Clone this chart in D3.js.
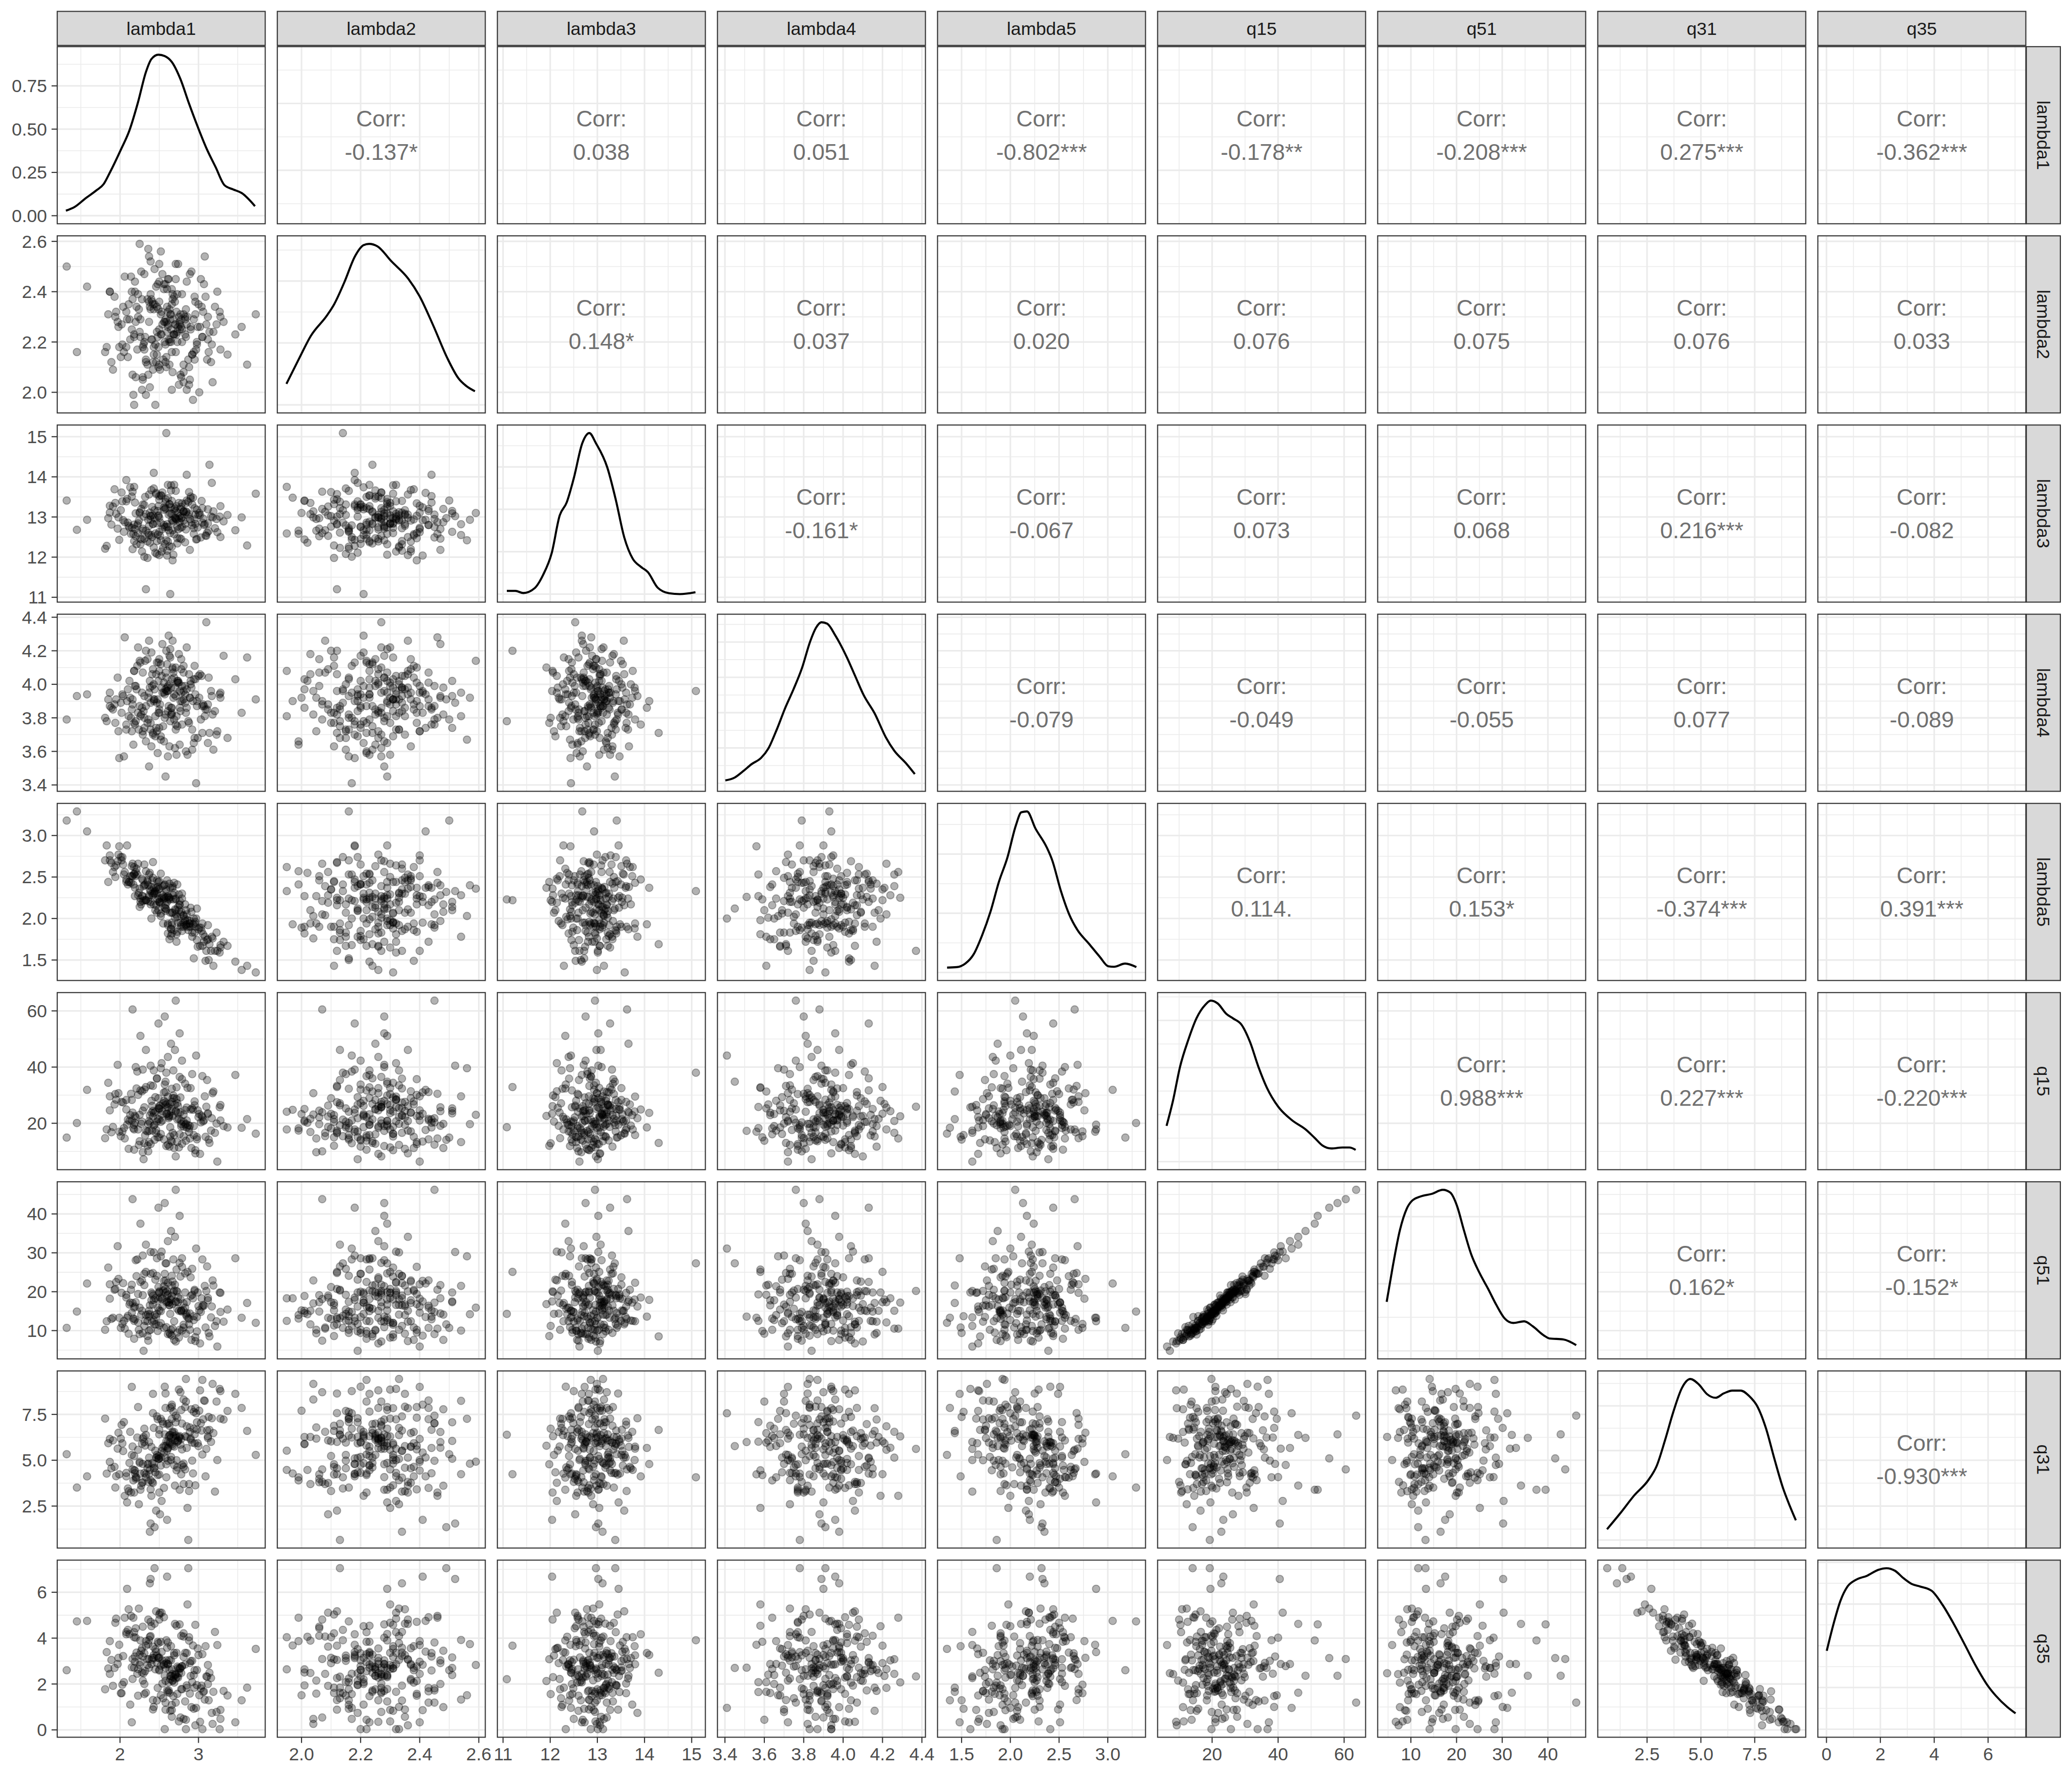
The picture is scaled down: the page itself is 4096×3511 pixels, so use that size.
<!DOCTYPE html>
<html><head><meta charset="utf-8">
<script src="https://cdn.jsdelivr.net/npm/d3@7"></script>
<style>html,body{margin:0;padding:0;background:#fff;}svg{display:block;}</style>
</head><body>
<svg id="chart"></svg>
<script>
// ---------------- DATA ----------------
const varNames = ["lambda1","lambda2","lambda3","lambda4","lambda5","q15","q51","q31","q35"];

const lambda1 = [
2.60,2.19,3.11,2.75,2.45,1.87,2.88,2.57,2.37,2.98,
2.27,2.68,3.62,2.08,2.79,2.51,2.40,2.94,1.58,2.64,
2.83,2.33,2.49,3.17,2.14,2.71,2.55,2.44,3.05,2.25,
1.99,2.90,2.66,2.29,3.28,2.47,2.76,1.32,2.59,2.81,
2.53,3.09,2.22,2.70,2.38,2.96,1.94,2.62,2.85,2.42,
3.21,2.50,2.16,2.73,2.56,2.10,2.89,2.31,3.02,2.45,
2.67,1.83,2.78,2.39,3.13,2.61,2.20,2.84,2.47,3.73,
2.35,2.58,2.99,2.03,2.70,2.28,2.64,3.24,2.13,2.72,
2.48,2.92,2.32,2.60,1.91,2.86,2.69,2.43,3.08,2.18,
2.79,2.54,2.06,2.95,2.63,2.25,3.18,2.41,2.58,1.45,
2.90,2.36,2.66,3.32,2.29,2.60,2.01,2.77,2.52,2.71,
2.17,3.04,2.57,2.39,2.85,1.89,2.65,2.97,2.44,2.74,
3.06,2.26,2.46,2.81,2.11,2.68,2.92,2.36,3.47,2.50,
2.40,2.62,3.14,2.21,2.77,2.52,1.97,2.87,2.67,2.30,
2.56,2.05,2.83,2.65,2.35,3.01,2.24,2.73,2.50,3.10,
1.81,2.79,2.42,2.94,2.61,2.18,2.71,2.33,3.23,2.58,
2.76,2.46,3.03,1.95,2.84,2.66,2.28,3.55,2.49,2.15,
2.43,3.12,2.52,2.81,2.04,2.73,2.63,2.23,2.93,2.37,
3.00,2.31,2.69,2.54,2.88,1.85,2.76,2.41,3.07,2.59,
2.29,2.95,2.09,2.66,2.74,2.48,3.27,2.18,2.61,2.38,
2.71,2.12,2.89,2.50,3.19,2.37,2.58,2.23,3.05,2.43,
2.31,2.65,1.98,2.85,2.53,3.37,2.19,2.69,2.47,2.78,
3.16,2.42,2.59,1.87,2.75,2.26,2.98,2.50,2.81,2.02,
2.20,2.83,2.63,2.96,1.93,2.67,2.39,3.28,2.15,2.61,
2.64,2.49,2.16,2.72,2.91,2.08,2.78,2.33,2.56,3.12];

const lambda2 = [
2.24,2.44,2.13,2.30,2.19,2.40,2.03,2.28,2.36,2.20,
2.48,2.23,2.11,2.32,2.25,2.09,2.37,2.16,2.42,2.21,
2.29,1.99,2.33,2.19,2.46,2.27,2.13,2.35,2.22,2.59,
2.18,2.26,2.41,2.06,2.30,2.15,2.28,2.50,2.10,2.31,
2.23,2.38,2.17,2.27,2.02,2.36,2.30,2.21,2.44,2.12,
2.34,2.25,2.07,2.39,2.28,2.14,2.47,2.20,2.26,1.95,
2.37,2.18,2.29,2.52,2.16,2.27,2.06,2.33,2.24,2.31,
2.11,2.43,2.26,2.19,2.36,2.01,2.29,2.40,2.21,2.32,
2.43,2.15,2.22,2.34,2.09,2.30,2.38,2.18,2.54,2.23,
2.20,2.27,2.46,2.13,2.33,2.24,2.04,2.36,2.29,2.16,
2.25,2.07,2.35,2.28,2.18,2.41,2.14,2.31,2.23,2.45,
1.99,2.34,2.20,2.39,2.27,2.12,2.31,2.17,2.49,2.26,
2.32,2.22,2.42,2.04,2.35,2.29,2.15,2.57,2.23,2.11,
2.21,2.45,2.24,2.34,2.07,2.31,2.28,2.13,2.39,2.19,
2.41,2.16,2.30,2.25,2.37,2.00,2.33,2.20,2.44,2.27,
2.16,2.39,2.09,2.29,2.32,2.22,2.51,2.12,2.27,2.19,
2.27,2.12,2.45,2.32,2.22,2.01,2.37,2.26,2.18,2.40,
2.15,2.30,2.56,2.08,2.34,2.24,2.20,2.39,1.97,2.28,
2.35,2.17,2.23,2.47,2.10,2.31,2.25,2.21,2.43,2.14,
2.05,2.38,2.29,2.16,2.51,2.22,2.32,1.95,2.26,2.34,
2.16,2.29,2.05,2.36,2.24,2.54,2.12,2.30,2.22,2.33,
2.47,2.20,2.26,2.01,2.32,2.15,2.40,2.23,2.34,2.06,
2.12,2.35,2.28,2.40,2.03,2.29,2.19,2.51,2.11,2.27,
2.28,2.23,2.11,2.31,2.38,2.08,2.33,2.17,2.25,2.45,
2.31,2.10,2.37,2.23,2.48,2.18,2.26,2.13,2.43,2.21];

const lambda3 = [
12.82,13.36,12.61,12.96,12.11,13.28,13.07,12.75,13.56,12.45,
13.20,12.88,12.29,13.39,13.00,12.53,13.67,12.72,12.93,11.08,
13.33,12.66,13.04,13.85,12.58,12.97,12.23,13.17,12.86,13.10,
12.43,13.51,12.92,12.71,13.27,12.08,13.02,13.41,12.76,13.14,
13.53,12.54,12.79,13.22,12.36,13.06,13.35,12.67,14.05,12.83,
12.72,12.98,13.63,12.47,13.18,12.86,12.18,13.30,13.05,12.59,
12.91,12.28,13.25,13.02,12.65,13.47,12.52,13.12,12.84,13.58,
11.98,13.20,12.74,13.39,12.98,12.44,13.09,12.62,13.74,12.94,
13.15,12.79,13.50,12.16,13.26,13.04,12.57,14.10,12.82,12.40,
12.75,13.61,12.87,13.22,12.27,13.12,12.99,12.50,13.37,12.68,
13.46,12.60,13.08,12.89,13.31,12.04,13.17,12.73,13.54,12.95,
12.58,13.40,12.33,13.03,13.13,12.81,13.79,12.44,12.97,12.69,
12.96,12.46,13.60,13.14,12.78,12.06,13.31,12.93,12.67,13.43,
12.55,13.06,14.30,12.32,13.20,12.85,12.71,13.38,11.92,13.01,
13.24,12.63,12.83,13.66,12.39,13.10,12.91,12.76,13.52,12.53,
12.21,13.34,13.04,12.58,13.80,12.81,13.15,11.20,12.95,13.23,
12.87,13.57,12.49,13.08,12.69,13.40,12.14,12.99,13.27,12.73,
13.71,12.84,12.42,13.13,12.92,12.34,13.32,12.60,13.48,12.78,
13.05,12.01,13.19,12.70,13.62,12.97,12.47,13.25,12.80,15.09,
12.66,12.94,13.45,12.26,13.09,12.56,13.01,13.75,12.39,13.11,
13.65,12.74,12.95,12.05,13.14,12.55,13.44,12.84,13.22,12.24,
12.46,13.24,12.99,13.41,12.14,13.05,12.70,13.80,12.40,12.97,
13.01,12.82,12.42,13.11,13.35,12.32,13.18,12.63,12.91,13.61,
13.09,12.37,13.32,12.83,13.69,12.67,12.93,12.50,13.51,12.75,
12.60,13.02,12.20,13.27,12.87,13.92,12.45,13.07,12.80,13.19];

const lambda4 = [
4.12,3.76,3.85,4.01,3.69,3.95,4.06,3.80,4.26,3.87,
3.82,3.92,4.16,3.73,3.99,3.88,3.63,4.03,3.94,3.78,
3.89,3.66,4.02,3.93,3.80,4.10,3.75,3.97,3.87,4.14,
3.56,4.00,3.83,4.07,3.92,3.72,3.96,3.79,4.20,3.91,
3.98,3.85,4.11,3.62,4.02,3.94,3.77,4.29,3.86,3.71,
3.84,4.15,3.88,4.01,3.66,3.97,3.92,3.74,4.06,3.81,
4.09,3.78,3.95,3.89,4.04,3.57,3.99,3.83,4.13,3.91,
3.77,4.07,3.68,3.94,3.98,3.86,4.21,3.72,3.92,3.81,
3.91,3.73,4.14,3.98,3.85,3.58,4.04,3.90,3.81,4.08,
3.76,3.95,4.28,3.68,4.00,3.87,3.82,4.06,3.45,3.93,
4.02,3.79,3.86,4.17,3.70,3.96,3.89,3.84,4.12,3.76,
3.64,4.05,3.94,3.77,4.22,3.86,3.98,3.41,3.91,4.01,
3.88,4.13,3.74,3.96,3.81,4.07,3.61,3.92,4.03,3.83,
4.19,3.87,3.71,3.97,3.90,3.69,4.04,3.78,4.10,3.84,
3.95,3.57,3.99,3.82,4.15,3.92,3.73,4.02,3.85,4.37,
3.80,3.90,4.09,3.65,3.96,3.77,3.93,4.20,3.70,3.97,
3.86,4.06,3.79,3.91,3.60,4.03,3.95,3.83,4.13,3.72,
4.00,3.88,3.67,4.07,3.93,3.75,4.17,3.83,3.90,3.51,
4.05,3.80,3.94,4.24,3.77,3.91,3.64,3.99,3.87,3.96,
3.72,4.11,3.90,3.82,4.02,3.59,3.94,4.08,3.84,3.98,
3.73,4.02,3.92,4.08,3.61,3.95,3.82,4.22,3.71,3.91,
3.93,3.86,3.72,3.97,4.05,3.68,3.99,3.79,3.89,4.15,
3.96,3.70,4.04,3.87,4.18,3.81,3.90,3.74,4.11,3.83,
3.78,3.94,3.63,4.03,3.88,4.26,3.73,3.95,3.85,3.99,
4.16,3.83,3.91,3.58,3.98,3.76,4.09,3.87,4.01,3.65];

const lambda5 = [
2.26,2.37,1.74,2.29,2.10,2.76,1.94,2.13,2.53,1.74,
2.17,2.23,1.43,2.44,2.30,2.19,2.38,1.52,3.05,2.23,
1.97,2.57,2.10,1.78,2.43,2.23,1.94,2.30,1.94,2.36,
2.87,1.90,1.95,2.46,1.65,2.07,2.17,3.18,2.35,1.95,
2.25,1.49,2.53,2.01,2.55,1.90,2.50,2.25,1.93,2.68,
1.61,2.24,2.66,1.84,2.24,2.41,1.97,2.65,1.67,2.33,
2.07,2.88,1.92,2.33,1.50,2.27,2.51,1.92,2.46,1.35,
2.44,2.16,1.66,2.74,2.11,2.27,2.37,1.61,2.51,1.72,
2.38,1.83,2.41,2.46,2.56,1.98,1.86,2.37,1.78,2.53,
1.85,2.39,2.56,1.83,2.25,2.14,1.76,2.46,2.12,3.29,
2.13,2.21,2.07,1.72,2.21,2.20,2.74,1.95,2.54,2.05,
2.41,1.85,2.41,2.17,2.05,2.67,1.88,2.00,2.32,1.95,
1.81,2.20,2.37,2.03,2.44,2.28,1.78,2.40,1.48,2.45,
2.00,2.23,1.69,2.60,2.05,2.06,2.69,1.86,2.37,2.39,
2.26,2.53,2.17,1.87,2.46,1.89,2.31,2.41,2.20,1.61,
2.70,2.24,2.28,2.00,1.94,2.54,2.10,2.22,1.83,2.09,
2.21,2.16,1.89,2.64,2.10,1.82,2.48,1.38,2.44,2.51,
2.17,1.92,2.03,2.04,2.65,2.02,2.42,2.28,1.93,2.26,
1.87,2.22,2.31,2.28,1.90,2.44,2.16,2.30,1.72,2.33,
2.27,1.94,2.88,1.92,2.14,2.23,1.59,2.62,1.82,2.35,
2.24,2.44,1.94,2.36,1.43,2.28,2.25,2.66,1.67,2.30,
2.40,1.79,2.77,1.90,2.19,1.67,2.27,2.43,2.30,1.90,
1.61,2.49,2.11,2.70,2.10,2.24,2.12,2.20,1.90,2.70,
2.56,1.99,1.75,1.96,2.62,2.39,2.20,1.68,2.63,1.92,
2.07,2.35,2.51,1.81,2.08,2.47,2.08,2.22,2.40,1.75];

const q15 = [
26.9,20.2,35.4,11.4,29.3,24.6,16.9,58.0,20.8,14.3,
19.8,38.8,21.5,28.3,12.7,26.3,23.8,15.8,31.9,18.6,
34.1,17.4,25.4,21.8,30.5,8.2,27.1,19.4,36.8,23.0,
17.0,32.5,13.5,24.5,26.5,20.6,52.0,14.9,23.4,18.8,
23.2,15.2,38.4,26.7,20.2,9.3,30.4,22.5,18.5,33.3,
16.6,25.1,60.5,13.3,28.0,21.3,19.1,32.0,9.1,24.1,
28.9,17.8,20.9,40.5,14.2,25.8,22.1,19.8,36.0,16.3,
12.0,31.1,24.6,17.1,46.1,20.6,26.9,6.35,22.9,28.6,
21.6,37.5,15.7,25.5,18.7,32.6,11.2,23.7,29.6,19.4,
42.3,21.0,14.6,26.4,22.3,13.6,30.7,17.4,34.8,20.1,
24.9,10.0,27.6,19.0,39.1,23.4,15.4,29.2,20.5,63.65,
18.2,22.7,33.8,12.6,25.6,16.8,24.2,44.1,14.1,26.1,
20.7,31.7,17.6,23.1,10.9,29.9,25.3,19.7,37.2,15.0,
28.0,21.8,13.0,32.4,23.9,16.2,40.8,19.3,22.6,7.2,
31.0,18.3,24.7,48.3,17.1,23.3,12.3,27.2,21.4,25.9,
14.7,35.7,22.4,19.0,29.5,10.6,24.4,32.9,19.9,26.6,
36.5,16.5,20.3,28.4,13.8,25.1,31.4,18.4,55.5,21.0,
19.2,23.6,39.6,15.4,27.4,21.4,11.7,30.1,24.8,17.3,
22.2,12.9,29.0,24.3,18.2,34.4,16.1,26.2,21.1,38.0,
9.7,27.8,19.5,32.3,23.5,15.0,25.7,17.8,43.6,22.8,
24.1,20.8,14.6,26.1,31.3,13.3,27.5,17.8,22.2,38.8,
25.7,13.9,30.7,21.0,41.4,18.5,22.6,15.8,35.9,19.7,
17.4,24.4,11.9,29.6,21.6,51.1,15.1,25.3,20.5,27.6,
40.0,19.5,22.9,10.4,26.7,16.6,33.5,21.0,28.3,12.4,
15.3,28.9,23.8,32.8,11.2,24.9,18.9,46.1,14.3,23.3];

const q51 = [
20.1,12.9,26.5,8.2,23.1,18.2,11.6,42.8,15.1,13.5,
14.1,28.3,17.1,19.2,10.0,18.5,17.8,13.7,22.1,14.3,
24.7,14.0,18.0,16.2,20.5,7.2,20.3,14.0,28.3,15.9,
13.3,23.7,8.7,19.1,19.7,14.3,39.5,10.7,17.3,11.5,
18.1,10.8,28.3,21.8,14.2,7.3,20.7,17.2,13.6,24.8,
11.2,19.8,43.8,9.5,21.4,13.8,14.4,24.6,6.7,18.3,
22.6,12.4,15.2,30.2,9.4,19.3,17.3,14.1,28.6,12.0,
8.6,22.9,19.8,11.7,34.1,15.1,18.0,5.9,17.2,20.2,
15.9,25.9,12.5,19.0,13.3,25.1,7.6,17.9,21.5,15.9,
28.6,16.2,10.5,20.5,16.6,9.1,22.9,12.3,27.3,14.9,
18.9,7.4,21.6,12.3,29.3,17.5,10.7,23.9,15.0,46.2,
13.1,18.3,24.6,10.2,17.3,13.0,18.0,31.1,11.6,18.6,
16.6,22.5,13.5,17.0,9.2,19.9,19.2,14.2,28.6,11.3,
19.8,17.2,8.5,24.0,18.1,11.9,31.7,13.2,16.8,4.8,
22.8,12.5,19.8,35.6,12.4,15.2,10.2,20.0,15.2,20.2,
10.2,26.4,19.0,12.7,22.3,7.9,17.5,25.1,12.4,19.8,
27.4,11.6,14.8,22.5,9.2,18.9,22.9,13.3,41.6,14.6,
12.6,18.4,29.1,10.8,22.2,15.6,9.4,19.4,18.3,13.6,
16.3,11.2,20.3,18.3,13.0,26.2,10.2,19.4,16.4,27.3,
9.3,20.2,13.3,24.1,17.3,9.9,19.8,12.5,33.0,16.5,
17.4,16.7,10.2,20.1,21.6,10.0,20.7,12.1,16.2,30.1,
21.7,10.2,23.3,14.5,30.3,15.4,16.2,12.4,24.1,14.9,
13.4,16.7,10.9,21.9,15.1,37.5,9.8,19.8,15.2,19.7,
28.1,15.9,16.5,8.3,20.5,10.5,24.6,14.8,21.8,9.1,
9.0,21.2,17.1,25.7,7.6,18.5,15.1,32.1,10.7,17.8];

const q31 = [
6.97,4.29,6.63,8.85,4.34,4.91,3.70,6.41,5.14,6.67,
3.61,7.65,6.60,4.31,7.00,2.05,5.73,7.64,4.12,6.39,
7.90,4.07,5.07,7.29,3.24,6.22,6.99,4.59,9.38,4.92,
4.23,6.19,8.03,3.80,7.27,5.29,3.39,5.33,6.03,4.82,
5.50,4.12,6.24,6.07,4.47,7.84,3.51,6.30,5.67,7.57,
3.29,6.41,4.50,7.32,5.78,3.46,6.54,4.31,8.81,5.52,
6.48,4.27,7.74,1.55,7.36,6.01,3.99,9.43,5.14,5.29,
4.78,7.85,5.93,5.92,3.62,5.90,5.92,5.01,6.55,5.00,
7.24,4.98,5.80,5.53,6.08,2.40,6.54,4.79,8.24,5.23,
4.74,7.11,3.06,6.41,6.37,4.85,9.16,3.82,5.77,3.51,
6.12,3.82,7.92,7.22,4.80,1.75,6.18,5.85,4.71,7.43,
3.90,6.62,9.01,3.41,6.85,4.56,5.01,7.56,1.35,6.09,
7.23,4.27,5.15,8.31,3.31,6.31,5.96,4.81,8.62,4.22,
3.06,7.01,6.65,4.05,8.71,5.15,5.63,0.65,5.79,6.27,
5.42,7.08,4.50,6.22,4.56,7.70,2.60,6.00,6.66,5.62,
7.27,5.59,3.76,6.72,5.63,3.24,7.07,4.24,8.20,5.13,
6.24,2.25,7.02,4.13,8.20,5.87,3.77,7.85,5.10,9.00,
4.56,6.30,7.26,3.70,5.50,4.61,5.96,7.90,4.28,5.99,
5.77,6.72,4.73,5.68,3.32,5.93,6.32,4.84,8.26,4.07,
6.18,5.93,2.70,7.25,6.05,4.19,8.89,4.47,5.67,1.10,
6.35,4.85,6.79,3.24,6.48,4.24,8.64,5.57,5.31,6.76,
5.99,5.18,6.50,6.27,2.78,7.69,4.44,5.74,7.39,4.23,
6.00,8.62,4.78,6.16,6.27,3.39,7.07,5.08,4.64,6.93,
4.08,6.31,6.88,3.63,4.64,6.55,3.91,8.77,5.29,4.97,
7.84,5.23,5.75,4.45,7.78,4.12,6.16,6.38,3.49,6.21];

const q35 = [
1.72,3.20,2.32,0.37,3.52,3.87,3.89,2.36,3.08,2.61,
3.45,1.47,1.84,4.26,1.77,5.11,2.87,0.92,4.75,2.21,
1.24,3.87,3.78,0.74,4.97,2.43,1.38,4.63,0.03,2.83,
3.71,3.00,0.86,4.50,0.87,3.24,4.60,2.60,2.91,3.18,
3.40,3.65,2.45,2.41,4.06,0.20,4.67,2.07,3.35,1.30,
4.27,2.63,3.09,1.57,2.87,4.36,2.91,3.34,0.35,2.64,
2.16,3.39,1.78,6.58,1.29,1.65,4.43,0.03,2.92,3.53,
3.08,1.19,3.55,1.97,4.62,2.50,2.35,3.70,1.10,3.36,
1.83,3.01,2.56,3.58,1.92,5.47,2.06,3.27,1.32,2.71,
2.78,2.02,4.89,1.84,3.05,3.28,0.26,3.06,2.70,4.73,
2.35,4.81,0.57,1.70,3.20,6.68,1.60,2.68,3.84,1.19,
4.89,1.93,0.03,4.71,1.83,3.05,3.65,0.96,7.05,2.28,
1.66,2.96,3.41,0.48,5.26,2.30,2.08,3.74,0.33,5.03,
4.52,1.72,2.49,3.37,0.54,2.80,2.87,7.05,2.13,2.47,
2.84,2.08,3.36,2.36,2.83,1.51,5.29,2.32,2.59,2.33,
1.77,2.77,3.63,2.39,2.86,4.26,2.39,3.67,0.78,2.14,
2.70,5.17,1.81,4.85,0.44,2.64,3.56,1.29,3.13,0.33,
3.13,2.83,1.51,4.07,3.22,2.76,2.62,1.49,3.68,2.71,
3.26,1.56,3.35,3.03,4.04,2.68,2.66,3.14,1.68,3.91,
2.15,2.60,6.15,1.09,2.70,3.84,0.03,4.04,2.87,6.39,
2.24,4.18,1.58,4.81,1.66,3.92,0.88,2.65,3.30,1.00,
2.00,3.03,3.14,1.94,5.11,1.50,2.97,3.25,1.28,4.10,
2.26,0.89,3.03,2.44,2.48,3.90,1.95,3.16,4.21,1.60,
4.02,2.85,1.61,4.58,2.70,2.44,4.09,0.48,2.73,3.81,
0.83,3.14,2.22,4.54,0.99,4.17,2.48,1.62,4.91,2.00];

// density curves: [x, density]
const dens_lambda1 = [[1.31,0.029],[1.42,0.050],[1.56,0.100],[1.70,0.147],[1.79,0.182],[1.87,0.249],[2.01,0.381],[2.12,0.493],[2.23,0.657],[2.33,0.830],[2.40,0.905],[2.49,0.930],[2.57,0.922],[2.66,0.888],[2.77,0.789],[2.88,0.647],[2.99,0.514],[3.10,0.391],[3.22,0.279],[3.33,0.177],[3.44,0.152],[3.55,0.131],[3.72,0.055]];
const dens_lambda2 = [[1.949,0.34],[1.993,0.76],[2.031,1.11],[2.087,1.45],[2.111,1.63],[2.144,1.97],[2.182,2.41],[2.210,2.58],[2.229,2.60],[2.257,2.56],[2.304,2.32],[2.361,2.04],[2.399,1.76],[2.446,1.28],[2.493,0.76],[2.531,0.43],[2.559,0.30],[2.587,0.22]];
const dens_lambda3 = [[11.08,0.015],[11.26,0.015],[11.43,0.005],[11.67,0.028],[11.85,0.091],[12.03,0.192],[12.20,0.370],[12.35,0.433],[12.50,0.547],[12.68,0.712],[12.83,0.760],[12.97,0.712],[13.21,0.598],[13.39,0.446],[13.57,0.268],[13.75,0.167],[13.92,0.129],[14.07,0.104],[14.28,0.030],[14.52,0.004],[14.75,0.000],[15.08,0.009]];
const dens_lambda4 = [[3.402,0.04],[3.449,0.08],[3.492,0.17],[3.535,0.27],[3.584,0.36],[3.620,0.49],[3.663,0.76],[3.705,1.06],[3.748,1.33],[3.791,1.63],[3.833,2.01],[3.862,2.20],[3.890,2.28],[3.919,2.26],[3.961,2.09],[4.018,1.79],[4.061,1.52],[4.104,1.25],[4.160,0.99],[4.217,0.65],[4.260,0.46],[4.317,0.29],[4.364,0.13]];
const dens_lambda5 = [[1.351,0.041],[1.451,0.045],[1.538,0.075],[1.624,0.154],[1.710,0.313],[1.797,0.515],[1.883,0.766],[1.969,0.968],[2.056,1.240],[2.113,1.353],[2.171,1.360],[2.257,1.217],[2.372,1.059],[2.430,0.947],[2.516,0.696],[2.602,0.494],[2.689,0.358],[2.804,0.245],[2.919,0.131],[3.005,0.052],[3.063,0.048],[3.178,0.075],[3.293,0.045]];
const dens_q15 = [[6.2,0.0076],[8.1,0.0128],[10.3,0.0202],[12.8,0.0259],[15.3,0.0305],[17.9,0.0333],[19.6,0.0342],[21.7,0.0336],[24.3,0.0314],[26.4,0.0304],[28.9,0.0291],[31.5,0.0254],[34.0,0.0202],[36.6,0.0157],[40.0,0.0117],[44.2,0.0088],[48.4,0.0068],[51.0,0.0051],[53.5,0.0034],[56.1,0.0028],[59.5,0.0030],[61.6,0.0030],[63.5,0.0025]];
const dens_q51 = [[4.7,0.0146],[6.0,0.0249],[7.6,0.0360],[9.1,0.0424],[10.3,0.0448],[12.1,0.0460],[14.6,0.0468],[17.0,0.0480],[18.6,0.0472],[20.1,0.0432],[21.6,0.0360],[23.2,0.0288],[25.0,0.0233],[26.9,0.0185],[28.7,0.0137],[30.5,0.0097],[32.4,0.0083],[34.8,0.0088],[36.7,0.0073],[39.1,0.0046],[40.3,0.0037],[43.4,0.0034],[46.2,0.0017]];
const dens_q31 = [[0.64,0.012],[1.26,0.030],[1.91,0.050],[2.56,0.067],[2.95,0.083],[3.34,0.112],[3.73,0.144],[4.12,0.170],[4.51,0.180],[4.90,0.174],[5.29,0.163],[5.68,0.159],[6.07,0.164],[6.46,0.167],[6.85,0.167],[7.24,0.161],[7.63,0.149],[8.02,0.125],[8.41,0.091],[8.80,0.059],[9.13,0.038],[9.41,0.022]];
const dens_q35 = [[0.01,0.094],[0.26,0.126],[0.52,0.154],[0.78,0.171],[1.09,0.179],[1.51,0.184],[1.92,0.191],[2.23,0.193],[2.54,0.190],[2.86,0.181],[3.17,0.174],[3.48,0.171],[3.90,0.166],[4.31,0.149],[4.73,0.126],[5.14,0.101],[5.56,0.075],[5.97,0.053],[6.29,0.040],[6.70,0.027],[7.02,0.019]];

// axis ticks per variable
const axisTicks = [[2,3],[2.0,2.2,2.4,2.6],[11,12,13,14,15],[3.4,3.6,3.8,4.0,4.2,4.4],[1.5,2.0,2.5,3.0],[20,40,60],[10,20,30,40],[2.5,5.0,7.5],[0,2,4,6]];
const axisLabels = [["2","3"],["2.0","2.2","2.4","2.6"],["11","12","13","14","15"],["3.4","3.6","3.8","4.0","4.2","4.4"],["1.5","2.0","2.5","3.0"],["20","40","60"],["10","20","30","40"],["2.5","5.0","7.5"],["0","2","4","6"]];
const densTicks = [0,0.25,0.50,0.75];
const densLabels = ["0.00","0.25","0.50","0.75"];
const densMajorStep = [0.25,1,0.2,0.5,0.5,0.01,0.02,0.05,0.05];

// correlation labels, upper triangle, row by row
const corrLabels = [
"-0.137*","0.038","0.051","-0.802***","-0.178**","-0.208***","0.275***","-0.362***",
"0.148*","0.037","0.020","0.076","0.075","0.076","0.033",
"-0.161*","-0.067","0.073","0.068","0.216***","-0.082",
"-0.079","-0.049","-0.055","0.077","-0.089",
"0.114.","0.153*","-0.374***","0.391***",
"0.988***","0.227***","-0.220***",
"0.162*","-0.152*",
"-0.930***"];

// ---------------- LAYOUT ----------------
const series = [lambda1,lambda2,lambda3,lambda4,lambda5,q15,q51,q31,q35];
const dens = [dens_lambda1,dens_lambda2,dens_lambda3,dens_lambda4,dens_lambda5,dens_q15,dens_q51,dens_q31,dens_q35];
const N = 9;
const left0 = 116, top0 = 94.5, pw = 421.6, ph = 359, gx = 24.5, gy = 24.5;
const px = c => left0 + c*(pw+gx);
const py = r => top0 + r*(ph+gy);
const FONT = "'Liberation Sans', Arial, Helvetica, sans-serif";

const svg = d3.select("#chart").attr("width",4096).attr("height",3511)
  .attr("viewBox","0 0 4200 3600").style("background","#fff");
svg.append("rect").attr("width",4200).attr("height",3600).attr("fill","#fff");

const defs = svg.append("defs");
defs.append("clipPath").attr("id","pclip").append("rect")
  .attr("x",0).attr("y",0).attr("width",pw).attr("height",ph);

function expand(ext){ const s = ext[1]-ext[0]; return [ext[0]-0.05*s, ext[1]+0.05*s]; }
const domains = series.map(s => expand(d3.extent(s)));
const xScales = domains.map(d => d3.scaleLinear().domain(d).range([0,pw]));
const yScales = domains.map(d => d3.scaleLinear().domain(d).range([ph,0]));
const densScales = dens.map(dd => {
  const m = d3.max(dd, d => d[1]);
  return d3.scaleLinear().domain([-0.05*m, 1.05*m]).range([ph,0]);
});

function minorBreaks(majors, dom){
  const step = majors[1]-majors[0];
  const out = [];
  for (let v = majors[0]-step/2; v <= majors[majors.length-1]+step/2+1e-9; v += step){
    if (v >= dom[0] && v <= dom[1]) out.push(v);
  }
  return out;
}
function stepBreaks(step, dom){
  const out = [];
  for (let k = Math.ceil(dom[0]/step-1e-9); k*step <= dom[1]+1e-12; k++) out.push(+(k*step).toFixed(6));
  return out;
}

const GRID = "#ebebeb";
for (let r=0; r<N; r++){
  for (let c=0; c<N; c++){
    const g = svg.append("g").attr("transform",`translate(${px(c)},${py(r)})`);
    g.append("rect").attr("width",pw).attr("height",ph).attr("fill","#fff");
    const xs = xScales[c];
    const ys = (r===c) ? densScales[r] : yScales[r];
    const xMaj = axisTicks[c].filter(v => v>=xs.domain()[0] && v<=xs.domain()[1]);
    const xMin = minorBreaks(axisTicks[c], xs.domain());
    let yMaj, yMin;
    if (r===c){
      yMaj = stepBreaks(densMajorStep[r], ys.domain());
      yMin = minorBreaks(yMaj.length>1 ? yMaj : [yMaj[0], yMaj[0]+densMajorStep[r]], ys.domain());
    } else {
      yMaj = axisTicks[r].filter(v => v>=ys.domain()[0] && v<=ys.domain()[1]);
      yMin = minorBreaks(axisTicks[r], ys.domain());
    }
    const grid = g.append("g");
    grid.selectAll(".xm").data(xMin).join("line").attr("x1",d=>xs(d)).attr("x2",d=>xs(d))
      .attr("y1",0).attr("y2",ph).attr("stroke",GRID).attr("stroke-width",1.6);
    grid.selectAll(".ym").data(yMin).join("line").attr("y1",d=>ys(d)).attr("y2",d=>ys(d))
      .attr("x1",0).attr("x2",pw).attr("stroke",GRID).attr("stroke-width",1.6);
    grid.selectAll(".xM").data(xMaj).join("line").attr("x1",d=>xs(d)).attr("x2",d=>xs(d))
      .attr("y1",0).attr("y2",ph).attr("stroke",GRID).attr("stroke-width",3.2);
    grid.selectAll(".yM").data(yMaj).join("line").attr("y1",d=>ys(d)).attr("y2",d=>ys(d))
      .attr("x1",0).attr("x2",pw).attr("stroke",GRID).attr("stroke-width",3.2);

    const content = g.append("g").attr("clip-path","url(#pclip)");
    if (r===c){
      const line = d3.line().x(d=>xs(d[0])).y(d=>ys(d[1])).curve(d3.curveMonotoneX);
      content.append("path").datum(dens[r]).attr("d",line).attr("fill","none")
        .attr("stroke","#000").attr("stroke-width",4.2).attr("stroke-linejoin","round");
    } else if (r>c){
      const pts = series[c].map((v,i)=>[v, series[r][i]]);
      content.selectAll("circle").data(pts).join("circle")
        .attr("cx",d=>xs(d[0])).attr("cy",d=>ys(d[1])).attr("r",7.6)
        .attr("fill","#000").attr("fill-opacity",0.3)
        .attr("stroke","#000").attr("stroke-opacity",0.3).attr("stroke-width",1.9);
    }
    g.append("rect").attr("width",pw).attr("height",ph).attr("fill","none")
      .attr("stroke","#333333").attr("stroke-width",2.2);
  }
}

// correlation texts
let k = 0;
for (let r=0; r<N; r++){
  for (let c=r+1; c<N; c++){
    const cx = px(c)+pw/2, cy = py(r)+ph/2;
    const t = svg.append("text").attr("text-anchor","middle").attr("font-family",FONT)
      .attr("font-size",46).attr("fill","#707070");
    t.append("tspan").attr("x",cx).attr("y",cy-17.5).text("Corr:");
    t.append("tspan").attr("x",cx).attr("y",cy+49.5).text(corrLabels[k]);
    k++;
  }
}

// top strips
for (let c=0; c<N; c++){
  svg.append("rect").attr("x",px(c)).attr("y",23).attr("width",pw).attr("height",69)
    .attr("fill","#d9d9d9").attr("stroke","#333333").attr("stroke-width",2.2);
  svg.append("text").attr("x",px(c)+pw/2).attr("y",57.5).attr("dy","0.35em")
    .attr("text-anchor","middle").attr("font-family",FONT).attr("font-size",36.7)
    .attr("fill","#1a1a1a").text(varNames[c]);
}
// right strips
const sx = px(N-1)+pw+1;
for (let r=0; r<N; r++){
  svg.append("rect").attr("x",sx).attr("y",py(r)).attr("width",69).attr("height",ph)
    .attr("fill","#d9d9d9").attr("stroke","#333333").attr("stroke-width",2.2);
  svg.append("text").attr("transform",`translate(${sx+34.5},${py(r)+ph/2}) rotate(90)`)
    .attr("dy","0.35em").attr("text-anchor","middle").attr("font-family",FONT)
    .attr("font-size",36.7).attr("fill","#1a1a1a").text(varNames[r]);
}

// left axes
const TL = 11.5, TM = 9.2;
for (let r=0; r<N; r++){
  const ys = (r===0) ? densScales[0] : yScales[r];
  const tv = (r===0) ? densTicks : axisTicks[r];
  const tl = (r===0) ? densLabels : axisLabels[r];
  const g = svg.append("g").attr("transform",`translate(${left0},${py(r)})`);
  tv.forEach((v,i)=>{
    g.append("line").attr("x1",-TL).attr("x2",0).attr("y1",ys(v)).attr("y2",ys(v))
      .attr("stroke","#333333").attr("stroke-width",2.2);
    g.append("text").attr("x",-TL-TM).attr("y",ys(v)).attr("dy","0.35em")
      .attr("text-anchor","end").attr("font-family",FONT).attr("font-size",36.7)
      .attr("fill","#4d4d4d").text(tl[i]);
  });
}
// bottom axes
const by = py(N-1)+ph;
for (let c=0; c<N; c++){
  const xs = xScales[c];
  const g = svg.append("g").attr("transform",`translate(${px(c)},${by})`);
  axisTicks[c].forEach((v,i)=>{
    g.append("line").attr("x1",xs(v)).attr("x2",xs(v)).attr("y1",0).attr("y2",TL)
      .attr("stroke","#333333").attr("stroke-width",2.2);
    g.append("text").attr("x",xs(v)).attr("y",TL+TM+26.3)
      .attr("text-anchor","middle").attr("font-family",FONT).attr("font-size",36.7)
      .attr("fill","#4d4d4d").text(axisLabels[c][i]);
  });
}
</script>
</body></html>
